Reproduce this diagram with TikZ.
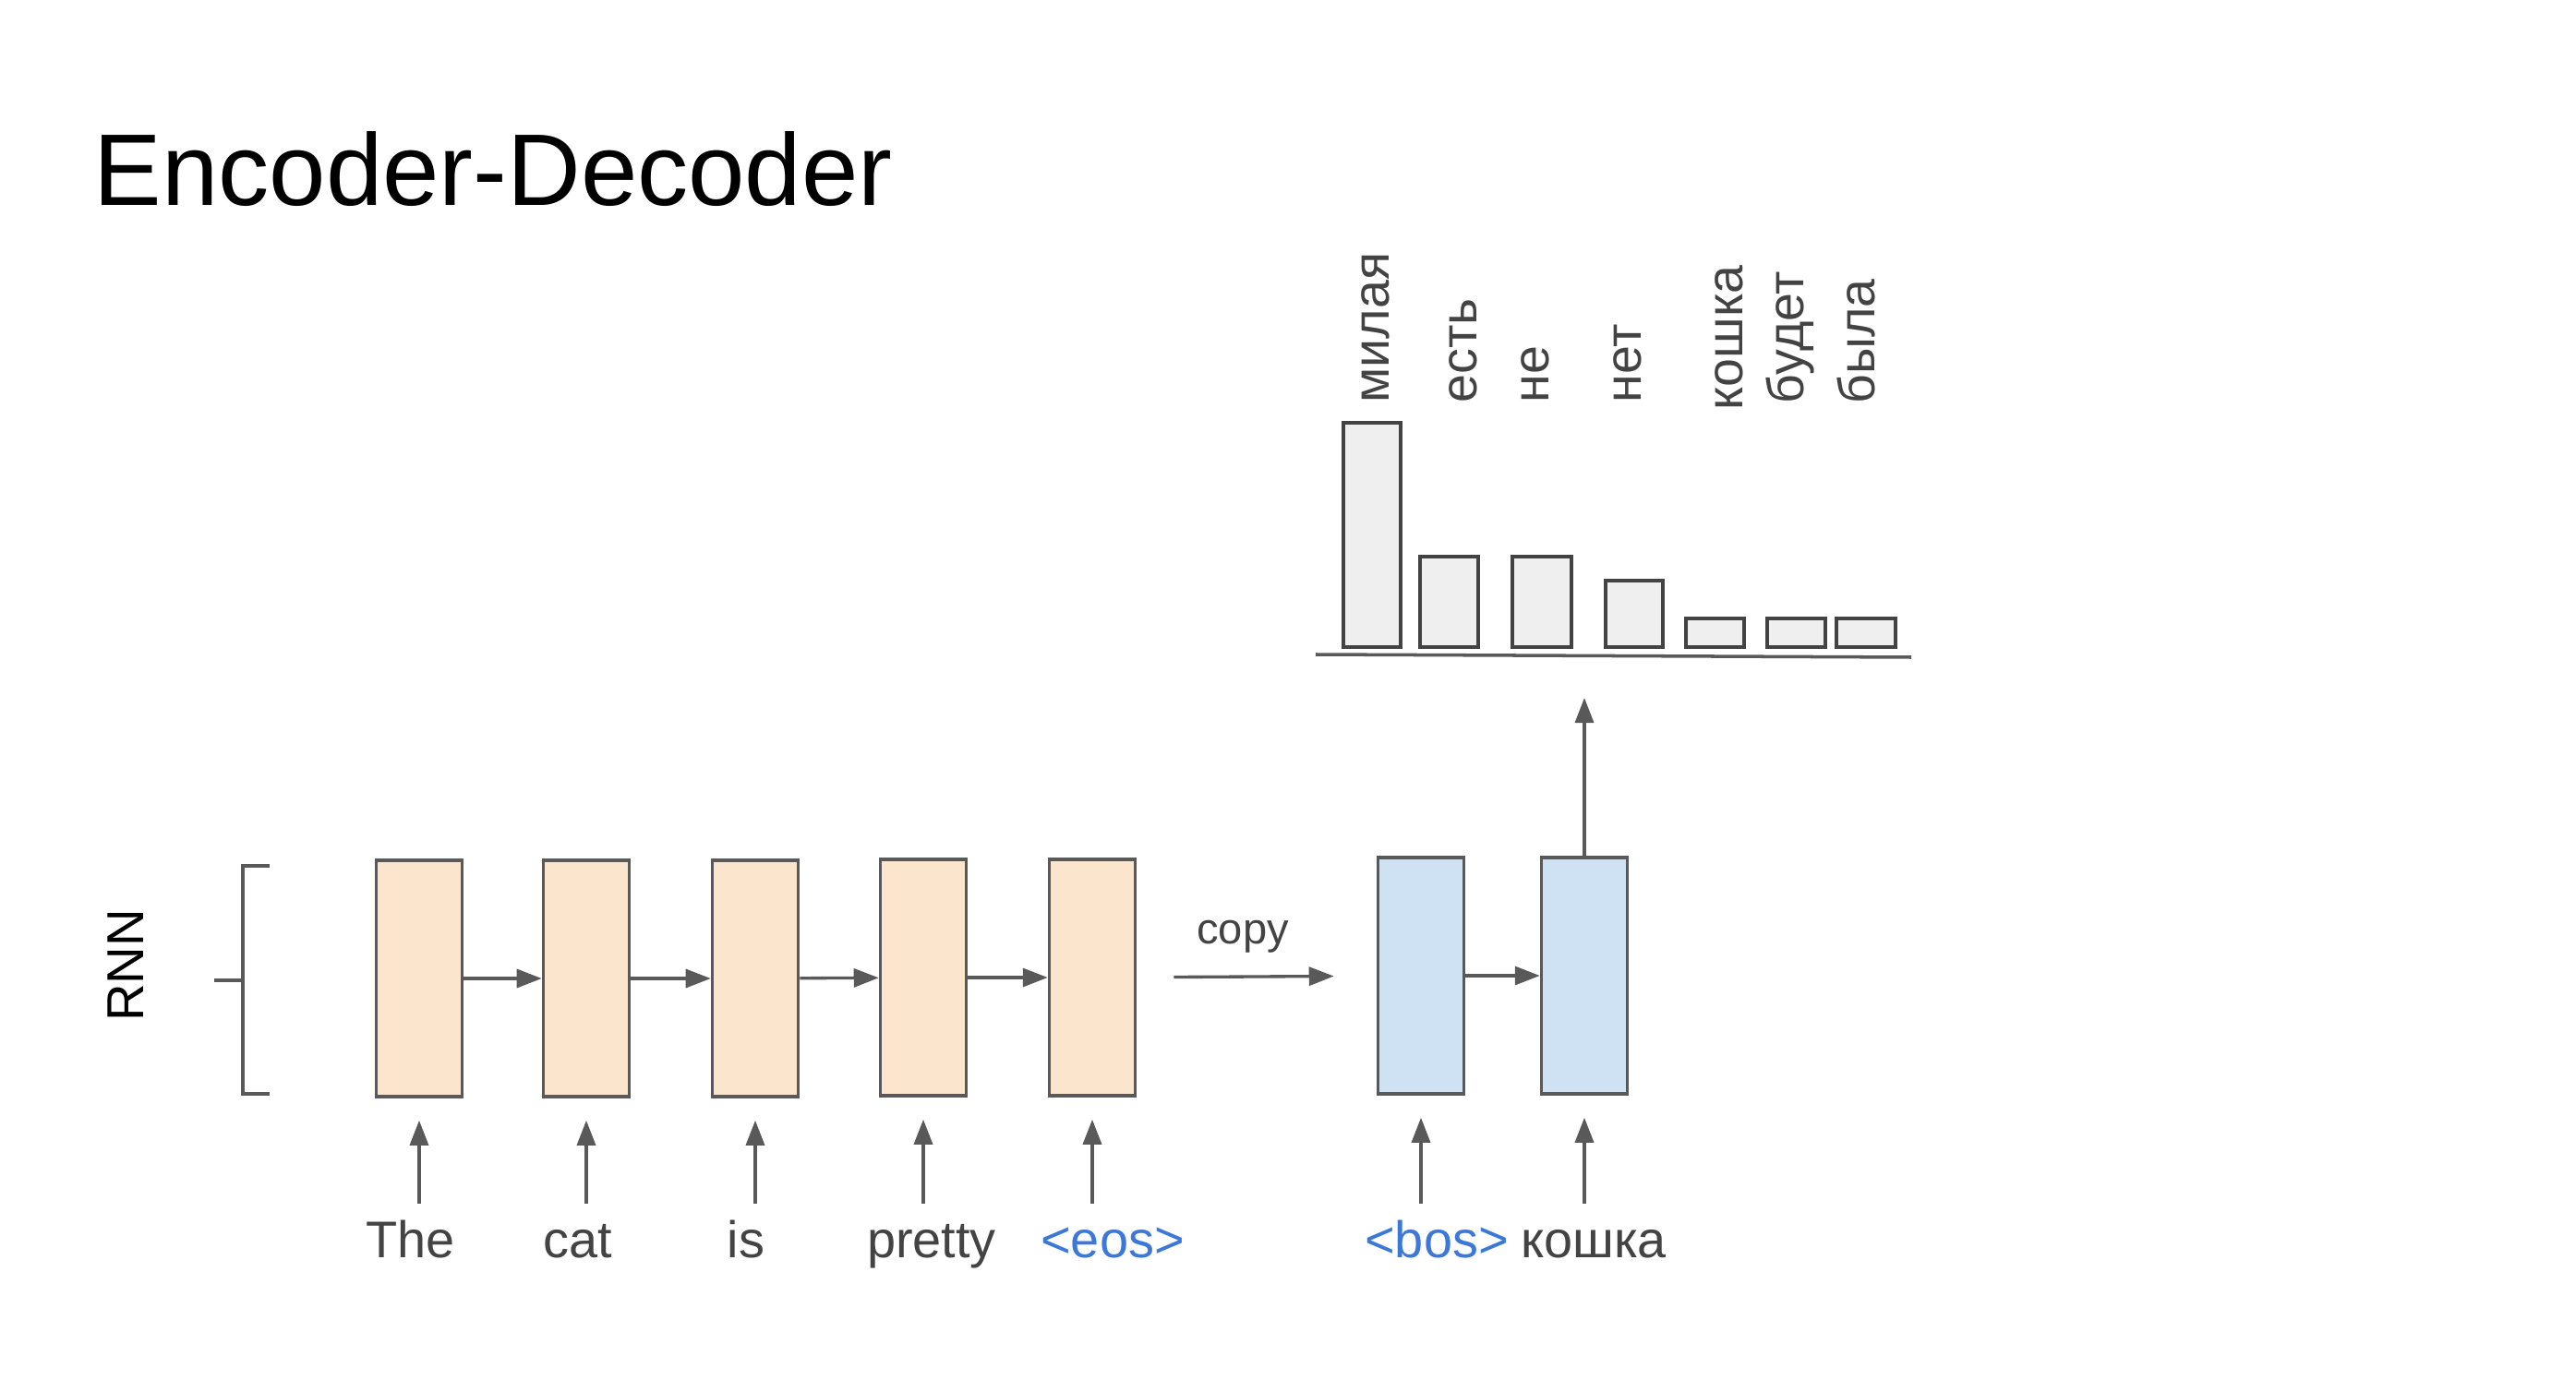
\documentclass[tikz,border=0pt]{standalone}
\usepackage{fontspec}
\setmainfont{Liberation Sans}
\usetikzlibrary{arrows.meta}
\definecolor{encfill}{HTML}{FCE5CD}
\definecolor{decfill}{HTML}{CFE2F3}
\definecolor{linegray}{HTML}{595959}
\definecolor{textgray}{HTML}{434343}
\definecolor{tokblue}{HTML}{3C78D8}
\definecolor{barfill}{HTML}{EFEFEF}
\begin{document}
\begin{tikzpicture}[
  rnncell/.style={rectangle, draw=linegray, line width=1pt, minimum width=0.93cm, minimum height=2.56cm, inner sep=0pt},
  enccell/.style={rnncell, fill=encfill},
  deccell/.style={rnncell, fill=decfill},
  tok/.style={text=textgray, font={\fontsize{15.9}{19}\selectfont}, inner sep=0pt, text height=0.40cm, text depth=0.12cm, anchor=base},
  spectok/.style={tok, text=tokblue},
  prob/.style={draw=textgray, line width=0.95pt, fill=barfill},
  problbl/.style={text=textgray, font={\fontsize{15.8}{19}\selectfont}, inner sep=0pt, rotate=90, anchor=base west},
  flow/.style={draw=linegray, line width=0.95pt, -{Triangle[length=0.27cm, width=0.2cm]}}
]
\useasboundingbox (0,0) rectangle (27.9,14.94);
\node[anchor=base west, inner sep=0pt, font={\fontsize{31.4}{36}\selectfont}] (title) at (1.01,12.71) {Encoder-Decoder};
\node[rotate=90, inner sep=0pt, font={\fontsize{16}{19}\selectfont}] (rnn) at (1.36,4.48) {RNN};
\draw[linegray, line width=1pt] (2.92,5.56) -- (2.63,5.56) -- (2.63,3.09) -- (2.92,3.09) (2.32,4.32) -- (2.63,4.32);
\node[enccell] (e1) at (4.54,4.34) {};
\node[enccell] (e2) at (6.35,4.34) {};
\node[enccell] (e3) at (8.18,4.34) {};
\node[enccell] (e4) at (10.00,4.35) {};
\node[enccell] (e5) at (11.83,4.35) {};
\node[deccell] (d1) at (15.39,4.37) {};
\node[deccell] (d2) at (17.16,4.37) {};
\node[tok] (w1) at (4.445,1.32) {The};
\node[tok] (w2) at (6.255,1.32) {cat};
\node[tok] (w3) at (8.08,1.32) {is};
\node[tok] (w4) at (10.09,1.32) {pretty};
\node[spectok] (w5) at (12.05,1.32) {<eos>};
\node[spectok] (w6) at (15.56,1.32) {<bos>};
\node[tok] (w7) at (17.26,1.32) {кошка};
\draw[flow] (e1) -- (e2);
\draw[flow] (e2) -- (e3);
\draw[flow] (e3) -- (e4);
\draw[flow] (e4) -- (e5);
\draw[flow] (d1) -- (d2);
\draw[flow, shorten <=0.17cm, shorten >=0.24cm] (e1.south |- w1.north) -- (e1.south);
\draw[flow, shorten <=0.17cm, shorten >=0.24cm] (e2.south |- w2.north) -- (e2.south);
\draw[flow, shorten <=0.17cm, shorten >=0.24cm] (e3.south |- w3.north) -- (e3.south);
\draw[flow, shorten <=0.17cm, shorten >=0.24cm] (e4.south |- w4.north) -- (e4.south);
\draw[flow, shorten <=0.17cm, shorten >=0.24cm] (e5.south |- w5.north) -- (e5.south);
\draw[flow, shorten <=0.17cm, shorten >=0.24cm] (d1.south |- w6.north) -- (d1.south);
\draw[flow, shorten <=0.17cm, shorten >=0.24cm] (d2.south |- w7.north) -- (d2.south);
\node[anchor=base, inner sep=0pt, text=textgray, font={\fontsize{13.4}{16}\selectfont}] (copylbl) at (13.46,4.72) {copy};
\draw[flow, shorten <=0.40cm, shorten >=0.46cm] (e5) -- (d1);
\coordinate (out) at (17.16,7.38);
\draw[flow] (d2) -- (out);
\draw[linegray, line width=1pt] (14.25,7.85) -- (20.70,7.82);
\draw[prob] (14.55,7.93) rectangle (15.17,10.36);
\draw[prob] (15.38,7.93) rectangle (16.01,8.91);
\draw[prob] (16.38,7.93) rectangle (17.02,8.91);
\draw[prob] (17.39,7.93) rectangle (18.01,8.65);
\draw[prob] (18.26,7.93) rectangle (18.89,8.24);
\draw[prob] (19.14,7.93) rectangle (19.77,8.24);
\draw[prob] (19.89,7.93) rectangle (20.53,8.24);
\node[problbl] (p1) at (15.04,10.57) {милая};
\node[problbl] (p2) at (15.99,10.57) {есть};
\node[problbl] (p3) at (16.77,10.57) {не};
\node[problbl] (p4) at (17.77,10.57) {нет};
\node[problbl] (p5) at (18.87,10.49) {кошка};
\node[problbl] (p6) at (19.53,10.56) {будет};
\node[problbl] (p7) at (20.30,10.56) {была};
\end{tikzpicture}
\end{document}
